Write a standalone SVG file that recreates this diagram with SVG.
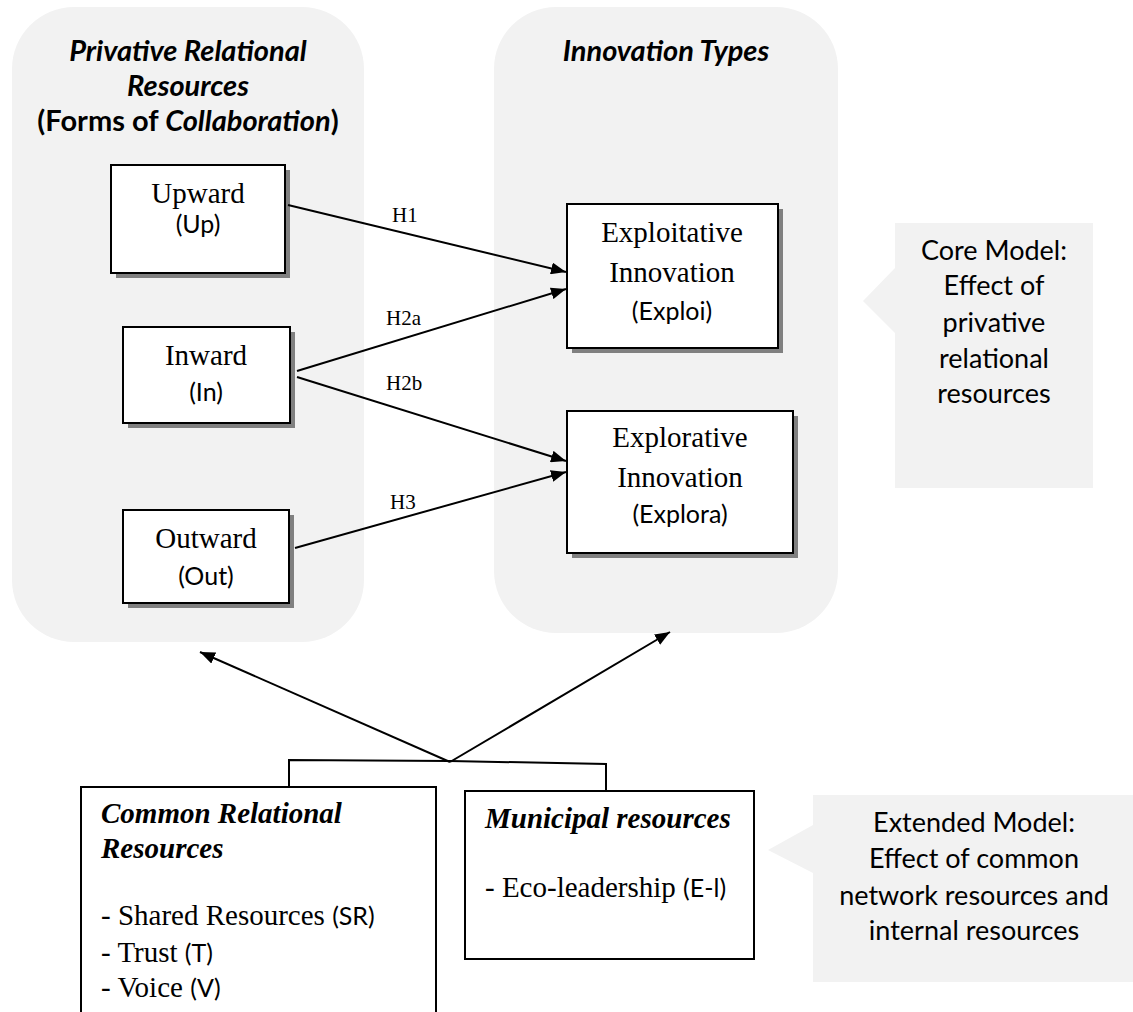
<svg xmlns="http://www.w3.org/2000/svg" width="1133" height="1012" viewBox="0 0 1133 1012">
  <style>
    .panel { fill: #f2f2f2; }
    .box { fill: #ffffff; stroke: #000000; stroke-width: 2; }
    .shadow { fill: #808080; }
    .conn { stroke: #000000; stroke-width: 2; fill: none; }
    .title { font-family: Lato, "Open Sans", sans-serif; font-weight: bold; font-style: italic; font-size: 29px; fill: #000; }
    .up { font-style: normal; }
    .it { font-style: italic; }
    .serif { font-family: "Liberation Serif", "Times New Roman", serif; font-size: 29px; fill: #000; }
    .sans { font-family: Lato, "Open Sans", sans-serif; font-size: 25px; fill: #000; }
    .call { font-family: Lato, "Open Sans", sans-serif; font-size: 27px; fill: #000; }
    .hl { font-family: "Liberation Serif", "Times New Roman", serif; font-size: 21px; fill: #000; }
    .bi { font-family: "Liberation Serif", "Times New Roman", serif; font-size: 29px; font-weight: bold; font-style: italic; fill: #000; }
  </style>
  <defs>
    <marker id="arrow" markerUnits="userSpaceOnUse" markerWidth="15" markerHeight="12" refX="15" refY="6" orient="auto">
      <path d="M0,0 L15,6 L0,12 z" fill="#000"/>
    </marker>
  </defs>
  <rect width="1133" height="1012" fill="#ffffff"/>

  <g id="panel-privative">
    <rect class="panel" x="12" y="7" width="352" height="635" rx="62" ry="62"/>
    <text class="title" text-anchor="middle" x="188" y="61">Privative Relational</text>
    <text class="title" text-anchor="middle" x="188" y="96">Resources</text>
    <text class="title up" text-anchor="middle" x="188" y="131">(Forms of <tspan class="it">Collaboration</tspan>)</text>
  </g>

  <g id="panel-innovation">
    <rect class="panel" x="494" y="7" width="344" height="626" rx="62" ry="62"/>
    <text class="title" text-anchor="middle" x="666" y="61">Innovation Types</text>
  </g>

  <g id="callout-core">
    <path class="panel" d="M895,223 H1093 V488 H895 V333 L863,301 L895,268 Z"/>
    <text class="call" text-anchor="middle" x="994" y="260">Core Model:</text>
    <text class="call" text-anchor="middle" x="994" y="295">Effect of</text>
    <text class="call" text-anchor="middle" x="994" y="332">privative</text>
    <text class="call" text-anchor="middle" x="994" y="368">relational</text>
    <text class="call" text-anchor="middle" x="994" y="403">resources</text>
  </g>

  <g id="callout-extended">
    <path class="panel" d="M813,795 H1133 V982 H813 V873 L768,850 L813,825 Z"/>
    <text class="call" text-anchor="middle" x="974" y="832">Extended Model:</text>
    <text class="call" text-anchor="middle" x="974" y="868">Effect of common</text>
    <text class="call" text-anchor="middle" x="974" y="905">network resources and</text>
    <text class="call" text-anchor="middle" x="974" y="940">internal resources</text>
  </g>

  <g id="node-upward">
    <rect class="shadow" x="116" y="170" width="174" height="108"/>
    <rect class="box" x="111" y="165" width="174" height="108"/>
    <text class="serif" text-anchor="middle" x="198" y="203">Upward</text>
    <text class="sans" text-anchor="middle" x="198" y="233">(Up)</text>
  </g>

  <g id="node-inward">
    <rect class="shadow" x="128" y="332" width="167" height="96"/>
    <rect class="box" x="123" y="327" width="167" height="96"/>
    <text class="serif" text-anchor="middle" x="206" y="365">Inward</text>
    <text class="sans" text-anchor="middle" x="206" y="401">(In)</text>
  </g>

  <g id="node-outward">
    <rect class="shadow" x="128" y="515" width="166" height="93"/>
    <rect class="box" x="123" y="510" width="166" height="93"/>
    <text class="serif" text-anchor="middle" x="206" y="548">Outward</text>
    <text class="sans" text-anchor="middle" x="206" y="585">(Out)</text>
  </g>

  <g id="node-exploitative">
    <rect class="shadow" x="572" y="209" width="211" height="144"/>
    <rect class="box" x="567" y="204" width="211" height="144"/>
    <text class="serif" text-anchor="middle" x="672" y="242">Exploitative</text>
    <text class="serif" text-anchor="middle" x="672" y="282">Innovation</text>
    <text class="sans" text-anchor="middle" x="672" y="320">(Exploi)</text>
  </g>

  <g id="node-explorative">
    <rect class="shadow" x="572" y="416" width="226" height="142"/>
    <rect class="box" x="567" y="411" width="226" height="142"/>
    <text class="serif" text-anchor="middle" x="680" y="447">Explorative</text>
    <text class="serif" text-anchor="middle" x="680" y="487">Innovation</text>
    <text class="sans" text-anchor="middle" x="680" y="523">(Explora)</text>
  </g>

  <g id="node-common">
    <rect class="box" x="81" y="787" width="355" height="240"/>
    <text class="bi" x="101" y="823">Common Relational</text>
    <text class="bi" x="101" y="858">Resources</text>
    <text class="serif" x="101" y="925">- Shared Resources <tspan class="sans">(SR)</tspan></text>
    <text class="serif" x="101" y="962">- Trust <tspan class="sans">(T)</tspan></text>
    <text class="serif" x="101" y="997">- Voice <tspan class="sans">(V)</tspan></text>
  </g>

  <g id="node-municipal">
    <rect class="box" x="465" y="791" width="289" height="168"/>
    <text class="bi" x="485" y="828">Municipal resources</text>
    <text class="serif" x="485" y="897">- Eco-leadership <tspan class="sans">(E-l)</tspan></text>
  </g>

  <g id="connectors">
    <line class="conn" x1="288" y1="205" x2="566" y2="272" marker-end="url(#arrow)"/>
    <line class="conn" x1="297" y1="371" x2="566" y2="289" marker-end="url(#arrow)"/>
    <line class="conn" x1="297" y1="377" x2="566" y2="461" marker-end="url(#arrow)"/>
    <line class="conn" x1="295" y1="548" x2="566" y2="472" marker-end="url(#arrow)"/>
    <polyline class="conn" points="289,787 289,760 450,761 606,764 606,791"/>
    <line class="conn" x1="450" y1="762" x2="200" y2="652" marker-end="url(#arrow)"/>
    <line class="conn" x1="450" y1="762" x2="670" y2="632" marker-end="url(#arrow)"/>
    <text class="hl" x="392" y="222">H1</text>
    <text class="hl" x="386" y="325">H2a</text>
    <text class="hl" x="386" y="390">H2b</text>
    <text class="hl" x="390" y="509">H3</text>
  </g>
</svg>
